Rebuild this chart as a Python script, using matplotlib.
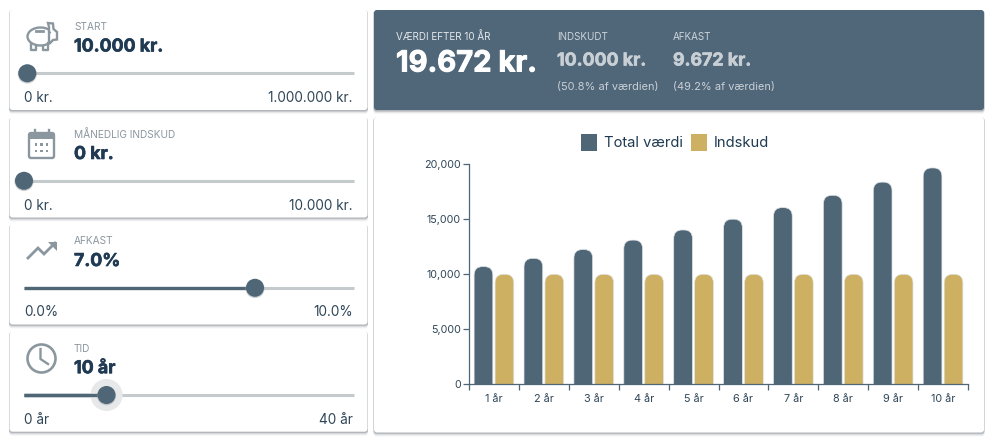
import matplotlib
matplotlib.use("Agg")
import matplotlib.pyplot as plt
import matplotlib.patheffects as pe
from matplotlib.patches import FancyBboxPatch, Circle, Rectangle, Polygon, Ellipse

plt.rcParams['font.family'] = ['Inter', 'DejaVu Sans']

# ---- data ----
years = ["1 år", "2 år", "3 år", "4 år", "5 år", "6 år", "7 år", "8 år", "9 år", "10 år"]
total_value = [10700, 11450, 12250, 13110, 14030, 15010, 16060, 17180, 18380, 19670]
contributions = [10000, 10000, 10000, 10000, 10000, 10000, 10000, 10000, 10000, 10000]
y_ticks = [0, 5000, 10000, 15000, 20000]
series_names = ["Total værdi", "Indskud"]

card_titles = ["START", "MÅNEDLIG INDSKUD", "AFKAST", "TID"]
card_values = ["10.000 kr.", "0 kr.", "7.0%", "10 år"]
range_low = ["0 kr.", "0 kr.", "0.0%", "0 år"]
range_high = ["1.000.000 kr.", "10.000 kr.", "10.0%", "40 år"]
slider_value = [10000, 0, 7.0, 10]
slider_max = [1000000, 10000, 10.0, 40]

summary_titles = ["VÆRDI EFTER 10 ÅR", "INDSKUDT", "AFKAST"]
summary_values = ["19.672 kr.", "10.000 kr.", "9.672 kr."]
summary_notes = ["", "(50.8% af værdien)", "(49.2% af værdien)"]

# ---- style ----
BLUE = "#4f6677"
GOLD = "#ceb062"
DARK = "#1f3a52"
TEXT = "#2f4658"
GREY = "#8b979f"
TRACK = "#c5cacc"

fig = plt.figure(figsize=(10, 4.46), dpi=100, facecolor="white")
bg = fig.add_axes([0, 0, 1, 1], zorder=0)
bg.set_xlim(0, 1000)
bg.set_ylim(446, 0)
bg.axis("off")


def heavy(color, width=0.45):
    return [pe.withStroke(linewidth=width, foreground=color)]


def card(x0, y0, x1, y1, color="white"):
    for off, alpha in [(3.5, 0.05), (2.5, 0.08), (1.5, 0.14), (0.7, 0.2)]:
        bg.add_patch(FancyBboxPatch((x0 - 0.5, y0 + 0.5), x1 - x0 + 1, y1 - y0 + off,
                                    boxstyle="round,pad=0,rounding_size=3",
                                    fc="#3c4a52", ec="none", alpha=alpha))
    bg.add_patch(FancyBboxPatch((x0, y0), x1 - x0, y1 - y0,
                                boxstyle="round,pad=0,rounding_size=3", fc=color, ec="none"))


tops = [10, 117.5, 224.5, 331.7]
CARD_H = 100
TRACK_L, TRACK_R = 24, 354

for i, top in enumerate(tops):
    card(9.5, top, 367.5, top + CARD_H)
    bg.text(74, top + 17, card_titles[i], fontsize=7.3, color=GREY, va="center", ha="left")
    bg.text(74, top + 37, card_values[i], fontsize=12.8, fontweight="bold", color=DARK, va="center", ha="left",
            path_effects=heavy(DARK))
    bg.text(24, top + 88, range_low[i], fontsize=9.8, color=TEXT, va="center", ha="left")
    bg.text(353, top + 88, range_high[i], fontsize=9.8, color=TEXT, va="center", ha="right")
    ty = top + 63.3
    tx = TRACK_L + slider_value[i] / slider_max[i] * (TRACK_R - TRACK_L)
    bg.plot([TRACK_L, TRACK_R], [ty, ty], color=TRACK, lw=2.2, solid_capstyle="butt", zorder=3)
    if i >= 2:
        bg.plot([TRACK_L, tx], [ty, ty], color=BLUE, lw=2.4, solid_capstyle="butt", zorder=4)
    if i == 3:
        bg.add_patch(Circle((tx, ty), 16, fc="#e6e8e9", ec="none", zorder=4))
        bg.plot([TRACK_L, tx], [ty, ty], color=BLUE, lw=2.4, solid_capstyle="butt", zorder=4.5)
    bg.add_patch(Circle((tx, ty + 0.7), 9.6, fc="#9aa5ac", ec="none", alpha=0.5, zorder=5))
    bg.add_patch(Circle((tx, ty), 9, fc=BLUE, ec="none", zorder=6))

# ---- icons ----
ICON_LW = 1.7
# piggy bank
bg.add_patch(Ellipse((40.5, 36.5), 26, 18, fc="none", ec=GREY, lw=ICON_LW))
bg.add_patch(Polygon([(49, 27), (48, 23), (53, 23.5), (53.5, 29), (57, 32), (57, 39.5), (53, 40), (49, 44)],
                     closed=True, fc="white", ec=GREY, lw=ICON_LW, zorder=2))
bg.plot([31, 31, 36, 36], [44, 50, 50, 46], color=GREY, lw=ICON_LW)
bg.plot([43, 43, 48, 48], [46, 50, 50, 43], color=GREY, lw=ICON_LW)
bg.plot([36, 43], [30.5, 30.5], color=GREY, lw=ICON_LW + 0.3, zorder=3)
bg.add_patch(Circle((50, 32.5), 1.1, fc=GREY, ec="none", zorder=3))
# calendar
bg.add_patch(FancyBboxPatch((29, 133), 25, 25, boxstyle="round,pad=0,rounding_size=2", fc="none", ec=GREY, lw=ICON_LW))
bg.add_patch(Rectangle((29, 133), 25, 5.5, fc=GREY, ec="none"))
bg.plot([34.5, 34.5], [129.5, 134], color=GREY, lw=ICON_LW)
bg.plot([48.5, 48.5], [129.5, 134], color=GREY, lw=ICON_LW)
for cx in [36, 41.5, 47]:
    for cy in [144.5, 151]:
        bg.add_patch(Rectangle((cx - 1.2, cy - 1.2), 2.4, 2.4, fc=GREY, ec="none"))
# trend arrow
bg.plot([28, 38, 44, 55], [258, 248, 254, 243], color=GREY, lw=2.0, solid_joinstyle="miter")
bg.add_patch(Polygon([(47.5, 242), (57, 242), (57, 251)], closed=True, fc=GREY, ec="none"))
# clock
bg.add_patch(Circle((41.5, 358.5), 14, fc="none", ec=GREY, lw=1.9))
bg.plot([40.5, 40.5, 48], [349, 359, 364], color=GREY, lw=1.7)

# ---- summary banner ----
card(374, 10, 984, 110, color="#50677a")
sum_x = [396, 557, 673]
for i, x in enumerate(sum_x):
    bg.text(x, 37, summary_titles[i], fontsize=7.1, color="#e4e8eb" if i == 0 else "#cdd4d9", va="center", ha="left")
    if i == 0:
        bg.text(x, 64, summary_values[i], fontsize=21, fontweight="bold", color="white", va="center", ha="left",
                path_effects=heavy("white", 0.7))
    else:
        bg.text(x, 61, summary_values[i], fontsize=12.8, fontweight="bold", color="#c9d0d5", va="center", ha="left",
                path_effects=heavy("#c9d0d5"))
        bg.text(x, 87, summary_notes[i], fontsize=7.9, color="#c9d0d5", va="center", ha="left")

# ---- chart card ----
card(374, 117, 984, 432.5)

AX_L, AX_R, AX_T, AX_B = 469, 968, 164.3, 384.3
ax = fig.add_axes([AX_L / 1000, (446 - AX_B) / 446, (AX_R - AX_L) / 1000, (AX_B - AX_T) / 446], zorder=2)
ax.patch.set_alpha(0)
ax.set_xlim(0, len(years))
ax.set_ylim(0, y_ticks[-1])

centers = [i + 0.5 for i in range(len(years))]
BAR_W = 0.375
OFFSET = 0.21
RADIUS = 0.17
aspect = (y_ticks[-1] / (AX_B - AX_T)) * ((AX_R - AX_L) / len(years))


def rounded_bars(xs, values, color, label):
    bars = ax.bar(xs, values, width=BAR_W, color=color, label=label)
    for r in bars:
        r.set_visible(False)
        ax.add_patch(FancyBboxPatch((r.get_x(), -2000), r.get_width(), r.get_height() + 2000,
                                    boxstyle=f"round,pad=0,rounding_size={RADIUS}",
                                    mutation_aspect=aspect, fc=color, ec="#dfe3e6", lw=0.5))
    return bars


b1 = rounded_bars([c - OFFSET for c in centers], total_value, BLUE, series_names[0])
b2 = rounded_bars([c + OFFSET for c in centers], contributions, GOLD, series_names[1])

for s in ["top", "right"]:
    ax.spines[s].set_visible(False)
for s in ["left", "bottom"]:
    ax.spines[s].set_color(BLUE)
    ax.spines[s].set_linewidth(0.9)

ax.set_yticks(y_ticks)
ax.set_yticklabels([f"{v:,}" for v in y_ticks])
ax.set_xticks(range(len(years) + 1))
ax.set_xticklabels([])
ax.set_xticks(centers, minor=True)
ax.set_xticklabels(years, minor=True)
ax.tick_params(axis="y", length=4, width=0.9, color=BLUE, labelcolor=TEXT, labelsize=7.7, pad=2)
ax.tick_params(axis="x", which="major", length=4, width=0.9, color=BLUE)
ax.tick_params(axis="x", which="minor", length=0, labelcolor=TEXT, labelsize=7.8, pad=7)

# legend
handles = [Rectangle((0, 0), 1, 1, fc=BLUE), Rectangle((0, 0), 1, 1, fc=GOLD)]
leg = fig.legend(handles, series_names, loc="center", bbox_to_anchor=(0.675, 1 - 142.5 / 446), ncol=2,
                 frameon=False, fontsize=10.6, handlelength=1.1, handleheight=1.3,
                 handletextpad=0.45, columnspacing=0.55, labelcolor=DARK)
leg.set_zorder(3)

fig.savefig("out.png", dpi=100)
